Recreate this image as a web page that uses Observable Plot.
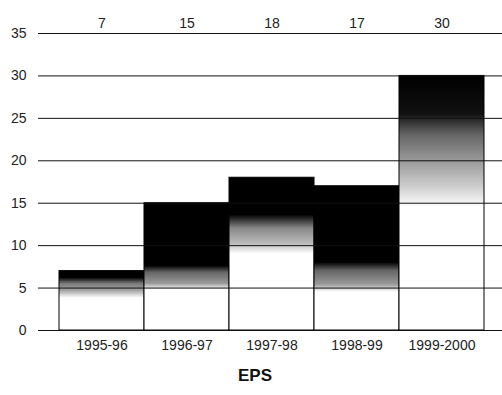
<!DOCTYPE html>
<html>
<head>
<meta charset="utf-8">
<script src="https://cdn.jsdelivr.net/npm/d3@7"></script>
<script src="https://cdn.jsdelivr.net/npm/@observablehq/plot@0.6"></script>
<style>
  html, body { margin: 0; padding: 0; background: #fff; }
</style>
</head>
<body>
<div id="chart"></div>
<script>
// ---- data ----
const years = ["1995-96", "1996-97", "1997-98", "1998-99", "1999-2000"];
const eps = [7, 15, 18, 17, 30];
const yTicks = [0, 5, 10, 15, 20, 25, 30, 35];
const axisTitle = "EPS";

// ---- style: per-bar vertical shading (value level from bottom -> colour) ----
const shading = [
  [[0, "#fff"], [3.8, "#fff"], [4.6, "#aaa"], [5.5, "#777"], [6.2, "#000"], [7, "#000"]],
  [[0, "#fff"], [4.8, "#fff"], [5.5, "#999"], [6.8, "#666"], [7.6, "#000"], [15, "#000"]],
  [[0, "#fff"], [9, "#fff"], [10.2, "#bbb"], [12, "#888"], [13.6, "#000"], [18, "#000"]],
  [[0, "#fff"], [4.5, "#fff"], [5.4, "#999"], [7, "#666"], [8, "#000"], [17, "#000"]],
  [[0, "#fff"], [14.5, "#fff"], [17, "#ccc"], [20, "#999"], [23, "#666"], [25.5, "#111"], [30, "#000"]]
];

const data = years.map((y, i) => ({year: y, value: eps[i]}));

const font = "'Liberation Sans', Arial, sans-serif";

const chart = Plot.plot({
  width: 502,
  height: 395,
  marginLeft: 58,
  marginRight: 17,
  marginTop: 33,
  marginBottom: 65,
  style: {fontFamily: font, fontSize: "14px", color: "#222", background: "#fff"},
  x: {domain: years, padding: 0, label: null},
  y: {domain: [0, 35], label: null},
  marks: [
    Plot.barY(data, {x: "year", y: "value", fill: "#000", stroke: "#000", strokeWidth: 1}),
    Plot.ruleY(yTicks, {stroke: "#111", strokeWidth: 1, insetLeft: -20, insetRight: -17}),
    Plot.axisY(yTicks, {tickSize: 0, tickPadding: 32, fontSize: 14, label: null}),
    Plot.axisX({tickSize: 0, tickPadding: 10, fontSize: 14, label: null}),
    Plot.text(data, {x: "year", text: d => String(d.value), frameAnchor: "top", dy: -15, fontSize: 14, fill: "#222"}),
    Plot.text([axisTitle], {frameAnchor: "bottom", dx: -17, dy: 50, fontSize: 17, fontWeight: "bold", fill: "#111"})
  ]
});

// apply per-bar gradients
const svg = d3.select(chart);
const defs = svg.insert("defs", ":first-child");
shading.forEach((stops, i) => {
  const g = defs.append("linearGradient")
    .attr("id", "shade" + i)
    .attr("x1", 0).attr("y1", 1).attr("x2", 0).attr("y2", 0);
  stops.forEach(([v, c]) => {
    g.append("stop").attr("offset", Math.min(1, v / eps[i])).attr("stop-color", c);
  });
});
svg.selectAll("g[aria-label='bar'] rect").attr("fill", (d, i) => `url(#shade${i})`);

document.getElementById("chart").appendChild(chart);
</script>
</body>
</html>
